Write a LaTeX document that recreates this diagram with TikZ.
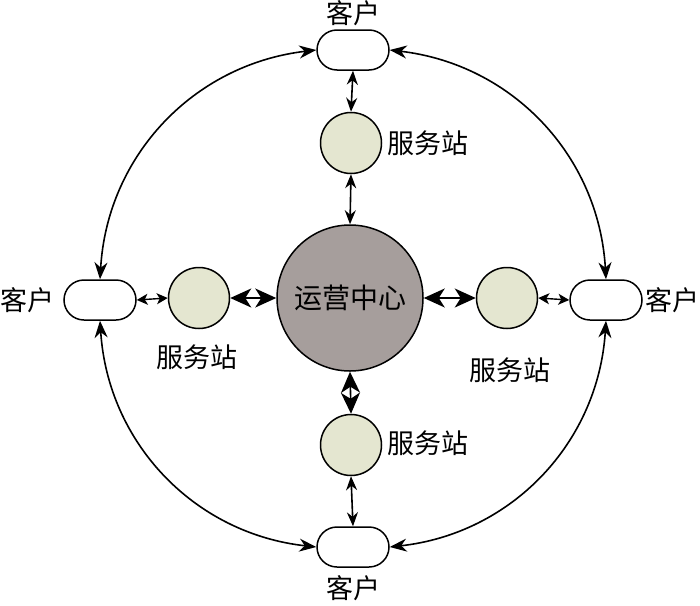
\documentclass[tikz,border=0pt]{standalone}
\usepackage{fontspec}
\newfontfamily\cjk{Noto Sans CJK SC}
\usetikzlibrary{arrows.meta,shapes.misc}
\definecolor{hubfill}{RGB}{166,158,156}
\definecolor{stfill}{RGB}{228,230,208}
\begin{document}
\begin{tikzpicture}[x=1pt,y=-1pt,
  hub/.style={circle,draw=black,line width=1.5pt,fill=hubfill,minimum size=146pt,inner sep=0pt,font=\cjk\fontsize{28}{30}\selectfont},
  station/.style={circle,draw=black,line width=1.5pt,fill=stfill,minimum size=61pt,inner sep=0pt},
  cust/.style={rounded rectangle,draw=black,line width=1.5pt,fill=white,minimum width=72pt,minimum height=40pt,inner sep=0pt},
  lbl/.style={font=\cjk\fontsize{27}{29}\selectfont,inner sep=0pt},
  bigarr/.style={{Stealth[length=21pt,width=19pt,inset=6pt]}-{Stealth[length=21pt,width=19pt,inset=6pt]},line width=1.6pt},
  midarr/.style={{Stealth[length=14pt,width=11pt]}-{Stealth[length=14pt,width=11pt]},line width=1.6pt},
  smallarr/.style={{Stealth[length=11pt,width=11pt,inset=3pt]}-{Stealth[length=11pt,width=11pt,inset=3pt]},line width=1.4pt},
  arcarr/.style={{Stealth[length=17pt,width=13pt]}-{Stealth[length=17pt,width=13pt]},line width=1.6pt}
]
\useasboundingbox (0,0) rectangle (700,605);
% hub
\node[hub] (hub) at (350,298) {运营中心};
% stations
\node[station] (st) at (351,143) {};
\node[station] (sb) at (351,445) {};
\node[station] (sl) at (199,298) {};
\node[station] (sr) at (507,298) {};
% customers
\node[cust] (ct) at (353,50) {};
\node[cust] (cb) at (353,547) {};
\node[cust] (cl) at (100,300) {};
\node[cust] (cr) at (606,300) {};
% labels
\node[lbl] (lct) at (353,13) {客户};
\node[lbl] (lcb) at (353,588) {客户};
\node[lbl] (lcl) at (28,300) {客户};
\node[lbl] (lcr) at (672,300) {客户};
\node[lbl] (lst) at (428,143) {服务站};
\node[lbl] (lsb) at (428,443) {服务站};
\node[lbl] (lsl) at (197,357) {服务站};
\node[lbl] (lsr) at (510,370) {服务站};
% arrows
\draw[midarr] (ct.south) -- (st.north);
\draw[midarr] (st.south) -- (hub.north);
\draw[bigarr] (hub.south) -- (sb.north);
\draw[midarr] (sb.south) -- (cb.north);
\draw[bigarr] (hub.west) -- (sl.east);
\draw[smallarr] (sl.west) -- (cl.east);
\draw[bigarr] (hub.east) -- (sr.west);
\draw[smallarr] (sr.east) -- (cr.west);
% arcs
\draw[arcarr] (ct.west) to[bend right=40] (cl.north);
\draw[arcarr] (ct.east) to[bend left=40] (cr.north);
\draw[arcarr] (cl.south) to[bend right=40] (cb.west);
\draw[arcarr] (cr.south) to[bend left=40] (cb.east);
\end{tikzpicture}
\end{document}
